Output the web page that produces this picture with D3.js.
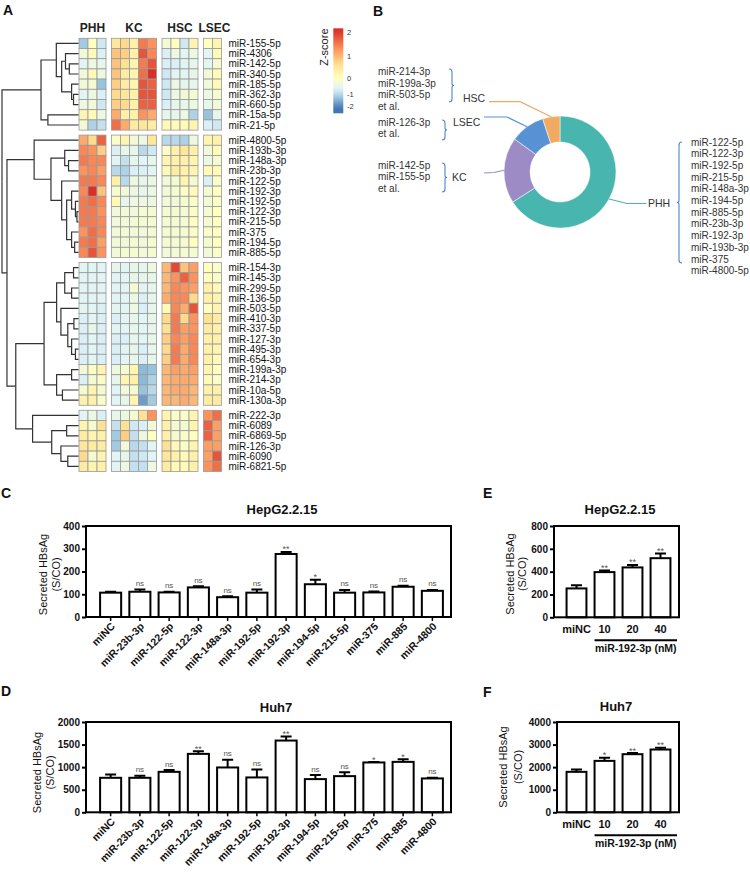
<!DOCTYPE html>
<html>
<head>
<meta charset="utf-8">
<script src="https://cdn.jsdelivr.net/npm/d3@7"></script>
<style>
  body { margin: 0; background: #fff; }
  svg { font-family: "Liberation Sans", Arial, sans-serif; }
</style>
</head>
<body>
<div id="fig"></div>
<script>
// ---------- panel A: heatmap data ----------
const cellTypes = ['PHH', 'KC', 'HSC', 'LSEC']
const replicates = [3, 5, 4, 2]

const rows1 = ['miR-155-5p', 'miR-4306', 'miR-142-5p', 'miR-340-5p', 'miR-185-5p', 'miR-362-3p', 'miR-660-5p', 'miR-15a-5p', 'miR-21-5p']
const z1 = [
    [-1.2, 0, -0.8, 0.5, 0.7, 0.3, 1.5, 1.3, -0.2, 0, -0.8, 0.2, 0, 0.2],
    [-0.3, 0.1, -0.7, 0.9, 0.8, 0.3, 1.8, 1.4, -0.7, -0.4, -0.6, -0.4, -0.6, 0.1],
    [-0.6, -0.4, -0.5, 0.9, 0.6, 0.2, 1.5, 1.8, -0.7, -0.7, -0.6, -0.5, -0.6, -0.2],
    [-0.3, 0.1, -0.4, 0.9, 0.4, 0.2, 1.6, 2.1, -0.8, -0.6, -0.6, -0.5, -0.3, 0.1],
    [-0.3, -0.2, -1.3, 0.8, 0.4, 0.2, 1.8, 1.7, -0.8, -0.4, -0.5, -0.5, -0.3, 0.1],
    [-0.6, -0.4, -0.7, 0.7, 0.5, 0.3, 1.8, 1.8, -0.8, -0.4, -0.3, -0.2, -0.4, -0.2],
    [-0.4, -0.3, -0.8, 0.8, 0.7, 0.3, 1.7, 1.7, -0.7, -0.5, -0.5, -0.4, -0.5, -0.3],
    [0.2, 0.1, -0.4, 1.1, 0.3, 0.3, 1.3, 1.1, -0.5, -0.5, -0.4, -1.1, -1.3, -0.5],
    [-0.3, -1.1, -0.9, 1.6, 1.1, 0.4, 0.5, 0.4, 0.1, 0.1, 0.1, 0.2, -0.7, -0.8]
]
const rows2 = ['miR-4800-5p', 'miR-193b-3p', 'miR-148a-3p', 'miR-23b-3p', 'miR-122-5p', 'miR-192-3p', 'miR-192-5p', 'miR-122-3p', 'miR-215-5p', 'miR-375', 'miR-194-5p', 'miR-885-5p']
const z2 = [
    [1.1, 0.7, 1.7, -0.1, 0.2, -0.3, -0.4, 0.5, -1.0, -1.0, -1.1, -0.4, 0.2, 0.3],
    [1.4, 1.3, 0.8, -0.7, -0.5, -0.5, -1.0, -0.8, -0.1, 0.3, 0.5, 0.3, -0.3, 0.1],
    [1.5, 1.4, 1.4, -0.6, -0.9, -0.5, -0.6, -0.5, 0.2, 0.3, 0.3, 0.2, -0.4, -0.2],
    [1.3, 1.4, 1.2, -1.0, -1.1, -0.7, -0.7, -0.6, 0.1, 0.4, 0.3, 0.2, 0.1, 0.1],
    [1.5, 1.5, 1.4, 0.3, -1.0, -0.4, -0.5, -0.4, -0.3, -0.2, 0.2, -0.2, -0.7, -0.1],
    [1.4, 2.2, 0.9, -0.2, -0.3, -0.4, -0.5, -0.4, -0.3, -0.2, -0.1, 0.1, -0.2, 0],
    [1.5, 1.6, 1.4, 0.1, -0.5, -0.4, -0.4, -0.4, -0.3, -0.3, -0.2, -0.1, -0.3, -0.1],
    [1.5, 1.5, 1.3, -0.3, -0.3, -0.3, -0.2, -0.2, -0.2, -0.2, -0.2, -0.1, -0.2, 0],
    [1.5, 1.5, 1.4, -0.3, -0.3, -0.2, -0.2, -0.2, -0.2, -0.2, -0.2, 0, -0.2, 0],
    [1.3, 1.6, 1.4, -0.3, -0.3, -0.3, -0.3, -0.2, -0.2, -0.2, -0.2, -0.1, -0.1, 0],
    [1.5, 1.6, 1.2, -0.3, -0.3, -0.2, -0.3, -0.2, -0.2, -0.2, -0.2, 0, -0.2, 0],
    [1.4, 1.8, 1.3, -0.3, -0.2, -0.2, -0.3, -0.2, -0.3, -0.2, -0.2, -0.2, -0.3, -0.1]
]
const rows3 = ['miR-154-3p', 'miR-145-3p', 'miR-299-5p', 'miR-136-5p', 'miR-503-5p', 'miR-410-3p', 'miR-337-5p', 'miR-127-3p', 'miR-495-3p', 'miR-654-3p', 'miR-199a-3p', 'miR-214-3p', 'miR-10a-5p', 'miR-130a-3p']
const z3 = [
    [-0.6, -0.6, -0.6, -0.5, -0.6, -0.5, -0.5, -0.4, 1.0, 1.9, 0.9, 1.2, 0, -0.1],
    [-0.6, -0.6, -0.6, -0.6, -0.6, -0.5, -0.5, -0.5, 1.0, 1.3, 1.7, 1.3, 0, -0.1],
    [-0.6, -0.6, -0.6, -0.6, -0.6, -0.2, -0.6, -0.5, 1.0, 1.4, 1.3, 1.2, 0.3, 0.1],
    [-0.6, -0.6, -0.6, -0.6, -0.6, -0.4, -0.7, -0.5, 1.1, 1.4, 1.4, 0.7, 0.3, 0.2],
    [-0.6, -0.6, -0.7, -0.6, -0.6, -0.4, -0.7, -0.5, 0.1, 1.4, 1.1, 1.8, 0, 0.2],
    [-0.7, -0.6, -0.7, -0.7, -0.6, -0.5, -0.6, -0.5, 0.7, 1.5, 0.7, 1.3, 0.6, 0.4],
    [-0.7, -0.5, -0.7, -0.6, -0.6, -0.5, -0.6, -0.5, 0.6, 1.5, 1.2, 1.3, 0.4, 0.3],
    [-0.7, -0.6, -0.7, -0.7, -0.7, -0.5, -0.6, -0.5, 0.8, 1.4, 1.2, 1.4, 0.3, 0.3],
    [-0.7, -0.6, -0.7, -0.7, -0.6, -0.5, -0.7, -0.5, 0.7, 1.5, 1.1, 1.4, 0.3, 0.2],
    [-0.7, -0.6, -0.7, -0.7, -0.6, -0.5, -0.7, -0.5, 0.8, 1.5, 1.1, 1.4, 0.3, 0.1],
    [-0.3, -0.1, 0.2, -0.4, -0.2, 0.2, -1.4, -1.3, 1.0, 1.2, 1.1, 1.2, 0.2, 0],
    [-0.7, -0.2, -0.1, -0.5, 0.2, 0.3, -1.4, -1.1, 1.0, 1.1, 1.1, 1.1, 0.1, -0.1],
    [-0.2, 0.2, -0.2, -0.6, -0.3, -0.2, -1.3, -1.0, 1.0, 1.1, 1.1, 1.0, 0.3, 0.3],
    [0.3, 0.3, -0.1, -0.6, -0.5, 0.2, -1.7, -1.2, 1.0, 1.0, 1.1, 1.0, 0.4, 0.4]
]
const rows4 = ['miR-222-3p', 'miR-6089', 'miR-6869-5p', 'miR-126-3p', 'miR-6090', 'miR-6821-5p']
const z4 = [
    [-0.6, -0.4, -0.7, -0.5, -0.4, -0.2, 0.6, 1.3, 0.2, -0.1, -0.1, 0.2, 1.3, 1.6],
    [0.2, -0.2, 0.6, -0.9, 0.6, -0.8, -0.7, -0.3, 0.3, -0.2, -0.2, 0.2, 1.7, 1.2],
    [0.4, 0.2, 0.3, -1.2, 0.8, -0.9, -0.4, 0, 0.3, -0.2, -0.1, 0, 1.7, 1.2],
    [0.5, 0.4, 0.4, -1.2, -0.3, -1.0, -0.9, -0.6, 0.6, 0.1, -0.1, 0.2, 1.2, 1.2],
    [0.7, -0.2, 0.2, -0.6, -0.5, -0.9, -0.8, -0.6, 0.5, 0.3, 0.1, 0.3, 1.2, 1.8],
    [0.4, 0.2, 0.3, -0.6, -0.4, -0.9, -0.9, -0.4, 0.4, 0.1, 0.1, 0.3, 1.3, 1.6]
]

// row dendrogram: [height, left, right], leaves are row names
const tree = [10,
    [4.9,
        [2.9, 'miR-155-5p',
            [2.2, [1.7, 'miR-4306', [1.2, 'miR-142-5p', 'miR-340-5p']],
                [0.9, 'miR-185-5p', [0.65, 'miR-362-3p', 'miR-660-5p']]]],
        [4.0, 'miR-15a-5p', 'miR-21-5p']],
    [9.35,
        [5.8, 'miR-4800-5p',
            [3.6, [1.8, 'miR-193b-3p', [1.3, 'miR-148a-3p', 'miR-23b-3p']],
                [2.2, 'miR-122-5p',
                    [1.55, [0.9, 'miR-192-3p', [0.4, 'miR-192-5p', [0.2, 'miR-122-3p', 'miR-215-5p']]],
                        [0.9, 'miR-375', [0.5, 'miR-194-5p', 'miR-885-5p']]]]]],
        [8.2,
            [4.5,
                [2.86, [1.8, [0.65, 'miR-154-3p', 'miR-145-3p'], [0.9, 'miR-299-5p', 'miR-136-5p']],
                    [2.3, 'miR-503-5p', [1.4, [0.6, 'miR-410-3p', 'miR-337-5p'], [0.9, 'miR-127-3p', [0.4, 'miR-495-3p', 'miR-654-3p']]]]],
                [2.86, [0.9, 'miR-199a-3p', 'miR-214-3p'], [2.1, 'miR-10a-5p', 'miR-130a-3p']]],
            [6.0, 'miR-222-3p',
                [3.5, [1.55, 'miR-6089', 'miR-6869-5p'], [2.3, 'miR-126-3p', [1.4, 'miR-6090', 'miR-6821-5p']]]]]]]

const legendTicks = [2, 1, 0, -1, -2]

// ---------- panel B: donut ----------
const pieLabels = ['PHH', 'KC', 'LSEC', 'HSC']
const pieValues = [66, 19, 10, 5]
const hscList = ['miR-214-3p', 'miR-199a-3p', 'miR-503-5p', 'et al.']
const lsecList = ['miR-126-3p', 'et al.']
const kcList = ['miR-142-5p', 'miR-155-5p', 'et al.']
const phhList = ['miR-122-5p', 'miR-122-3p', 'miR-192-5p', 'miR-215-5p', 'miR-148a-3p', 'miR-194-5p', 'miR-885-5p', 'miR-23b-3p', 'miR-192-3p', 'miR-193b-3p', 'miR-375', 'miR-4800-5p']

// ---------- panels C-F: bars ----------
const screenLabels = ['miNC', 'miR-23b-3p', 'miR-122-5p', 'miR-122-3p', 'miR-148a-3p', 'miR-192-5p', 'miR-192-3p', 'miR-194-5p', 'miR-215-5p', 'miR-375', 'miR-885', 'miR-4800']
const cMeans = [107, 111, 108, 130, 87, 107, 277, 144, 107, 108, 133, 115]
const cErrs = [4, 10, 3, 5, 4, 14, 9, 20, 12, 4, 4, 4]
const cSig = ['', 'ns', 'ns', 'ns', 'ns', 'ns', '**', '*', 'ns', 'ns', 'ns', 'ns']
const dMeans = [764, 764, 896, 1294, 993, 772, 1589, 735, 801, 1104, 1117, 750]
const dErrs = [75, 45, 40, 60, 170, 175, 90, 90, 85, 10, 60, 15]
const dSig = ['', 'ns', 'ns', '**', 'ns', 'ns', '**', 'ns', 'ns', '*', '*', 'ns']

const doseLabels = ['miNC', '10', '20', '40']
const eMeans = [253, 396, 437, 518]
const eErrs = [28, 14, 22, 40]
const eSig = ['', '**', '**', '**']
const fMeans = [1792, 2278, 2574, 2781]
const fErrs = [100, 140, 50, 80]
const fSig = ['', '*', '**', '**']

// ---------- styles ----------
const heatColors = ['#4575B4', '#91BFDB', '#E0F3F8', '#FFFFBF', '#FEE090', '#FC8D59', '#D73027']
const pieColors = { PHH: '#48b5ae', KC: '#9d8bc5', LSEC: '#5892d5', HSC: '#f0aa62' }
const braceColor = '#4f86c6'

const svg = d3.select('#fig').append('svg')
    .attr('width', 750)
    .attr('height', 872)

function letter(t, x, y) {
    svg.append('text').attr('x', x).attr('y', y).text(t)
        .attr('font-size', 14).attr('font-weight', 'bold').attr('fill', '#111')
}

// =============== A ===============
const heatRows = [rows1, rows2, rows3, rows4].flat()
const heatZ = [z1, z2, z3, z4].flat()
const rowCluster = [rows1, rows2, rows3, rows4].flatMap((r, k) => r.map(() => k))
const colGroup = replicates.flatMap((n, k) => d3.range(n).map(() => k))

const cellW = 9, cellH = 10.2, gapX = 5.5, gapY = 5
const colX = d3.scaleBand().domain(d3.range(colGroup.length)).range([79, 79 + colGroup.length * cellW])
const rowY = d3.scaleBand().domain(d3.range(heatRows.length)).range([38.3, 38.3 + heatRows.length * cellH])
const cx = j => colX(j) + colGroup[j] * gapX
const cy = i => rowY(i) + rowCluster[i] * gapY

const color = d3.scaleLinear()
    .domain([-2.1, -1.35, -0.65, 0, 0.65, 1.35, 2.1])
    .range(heatColors)
    .clamp(true)

const cells = []
heatZ.forEach((row, i) => row.forEach((v, j) => cells.push({ i, j, v })))

svg.append('g').selectAll('rect')
    .data(cells)
    .join('rect')
    .attr('x', d => cx(d.j))
    .attr('y', d => cy(d.i))
    .attr('width', cellW)
    .attr('height', cellH)
    .attr('fill', d => color(d.v))
    .attr('stroke', '#9a9a9a')
    .attr('stroke-width', 0.8)

const labelX = cx(colGroup.length - 1) + cellW + 7
svg.append('g').selectAll('text')
    .data(heatRows)
    .join('text')
    .attr('x', labelX)
    .attr('y', (d, i) => cy(i) + cellH / 2)
    .attr('dy', '0.35em')
    .attr('font-size', 10)
    .attr('fill', '#111')
    .text(d => d)

// column headers
const groupStart = replicates.map((n, k) => d3.sum(replicates.slice(0, k)))
svg.append('g').selectAll('text')
    .data(cellTypes)
    .join('text')
    .attr('x', (d, k) => cx(groupStart[k]) + replicates[k] * cellW / 2 + (d === 'LSEC' ? 2 : 0))
    .attr('y', 32)
    .attr('text-anchor', 'middle')
    .attr('font-size', 12)
    .attr('font-weight', 'bold')
    .attr('fill', '#222')
    .text(d => d)

// dendrogram
const root = d3.hierarchy(tree, d => Array.isArray(d) ? d.slice(1) : null)
const nodeH = n => Array.isArray(n.data) ? n.data[0] : 0
const hx = d3.scaleLinear().domain([0, 10]).range([78.5, 2])
root.eachAfter(n => {
    n.yy = n.children
        ? (n.children[0].yy + n.children[1].yy) / 2
        : cy(heatRows.indexOf(n.data)) + cellH / 2
})
svg.append('g').selectAll('path')
    .data(root.links())
    .join('path')
    .attr('d', l => `M${hx(nodeH(l.source))},${l.source.yy}V${l.target.yy}H${hx(nodeH(l.target))}`)
    .attr('fill', 'none')
    .attr('stroke', '#333')
    .attr('stroke-width', 1.2)

// colour key
const keyY = d3.scaleLinear().domain([-2, -1, 0, 1, 2]).range([106.7, 94.3, 78.3, 56, 32.7])
const keyTop = 28.3, keyBottom = 113.3
const grad = svg.append('defs').append('linearGradient')
    .attr('id', 'zgrad').attr('x1', 0).attr('y1', 0).attr('x2', 0).attr('y2', 1)
grad.selectAll('stop')
    .data(d3.range(0, 1.0001, 0.05))
    .join('stop')
    .attr('offset', t => t)
    .attr('stop-color', t => color(keyY.invert(keyTop + t * (keyBottom - keyTop))))
svg.append('rect')
    .attr('x', 333.3).attr('y', keyTop)
    .attr('width', 10).attr('height', keyBottom - keyTop)
    .attr('fill', 'url(#zgrad)')
svg.append('g').selectAll('text')
    .data(legendTicks)
    .join('text')
    .attr('x', 347)
    .attr('y', d => keyY(d))
    .attr('dy', '0.35em')
    .attr('font-size', 7.5)
    .attr('fill', '#333')
    .text(d => d)
svg.append('text')
    .attr('transform', 'translate(328,28.5) rotate(-90)')
    .attr('text-anchor', 'end')
    .attr('font-size', 11)
    .attr('fill', '#222')
    .text('Z-score')

letter('A', 3, 15)

// =============== B ===============
letter('B', 373, 16)
const pc = [560, 172]
const pieData = d3.pie().sort(null).value(d => d)(pieValues)
const arc = d3.arc().innerRadius(30).outerRadius(56)
const rim = d3.arc().innerRadius(56).outerRadius(56)
const pg = svg.append('g').attr('transform', `translate(${pc[0]},${pc[1]})`)
pg.selectAll('path')
    .data(pieData)
    .join('path')
    .attr('d', arc)
    .attr('fill', (d, i) => pieColors[pieLabels[i]])
    .attr('stroke', '#fff')
    .attr('stroke-width', 0.5)

// leader lines: elbow and end points per label
const leaderLayout = {
    PHH: { elbow: [627, 203.5], end: [646.5, 203.5], text: [648, 203] },
    KC: { elbow: [494, 172.5], end: [484, 173], text: [452, 177] },
    LSEC: { elbow: [507, 117], end: [484, 117], text: [453, 122] },
    HSC: { elbow: [520, 101.7], end: [489, 101.7], text: [463, 98] }
}
pieData.forEach((d, i) => {
    const name = pieLabels[i]
    const L = leaderLayout[name]
    const c = rim.centroid(d)
    const p0 = [pc[0] + c[0], pc[1] + c[1]]
    svg.append('path')
        .attr('d', d3.line()([p0, L.elbow, L.end]))
        .attr('fill', 'none')
        .attr('stroke', pieColors[name])
        .attr('stroke-width', 1.2)
    svg.append('text')
        .attr('x', L.text[0]).attr('y', L.text[1])
        .attr('dy', '0.35em')
        .attr('font-size', 10.5)
        .attr('fill', '#333')
        .text(name)
})

function list(items, x, y0, step) {
    svg.append('g').selectAll('text')
        .data(items)
        .join('text')
        .attr('x', x)
        .attr('y', (d, i) => y0 + i * step)
        .attr('font-size', 10)
        .attr('fill', '#333')
        .text(d => d)
}
list(hscList, 378, 75, 11.6)
list(lsecList, 378, 125.5, 11.6)
list(kcList, 378, 168.5, 11.6)
list(phhList, 691, 145.5, 11.7)

// braces; dir 1 = closing "}", -1 = opening "{"
function brace(x, y0, y1, dir) {
    const ym = (y0 + y1) / 2, w = 3 * dir
    const p = d3.path()
    p.moveTo(x - w, y0)
    p.quadraticCurveTo(x, y0, x, y0 + 3)
    p.lineTo(x, ym - 2)
    p.quadraticCurveTo(x, ym, x + 2 * dir, ym)
    p.quadraticCurveTo(x, ym, x, ym + 2)
    p.lineTo(x, y1 - 3)
    p.quadraticCurveTo(x, y1, x - w, y1)
    svg.append('path').attr('d', p.toString())
        .attr('fill', 'none').attr('stroke', braceColor).attr('stroke-width', 1.1)
}
brace(452, 69, 102, 1)
brace(445, 120, 140, 1)
brace(445, 163, 192, 1)
brace(679, 142, 263, -1)

// =============== C-F ===============
function barPanel(o) {
    const x = d3.scaleBand().domain(o.labels).range(o.band)
        .paddingInner(o.pad).paddingOuter(o.pad / 2)
    const y = d3.scaleLinear().domain([0, o.max]).range([o.bottom, o.top])
    const g = svg.append('g')
    const rows = o.labels.map((l, i) => ({ l, m: o.means[i], e: o.errs[i], s: o.sig[i] }))

    // error bars (upper only)
    g.selectAll('path.err')
        .data(rows)
        .join('path')
        .attr('d', d => {
            const c = x(d.l) + x.bandwidth() / 2
            return `M${c},${y(d.m)}V${y(d.m + d.e)}M${c - 5.5},${y(d.m + d.e)}H${c + 5.5}`
        })
        .attr('stroke', '#000').attr('stroke-width', 2).attr('fill', 'none')

    g.selectAll('rect.bar')
        .data(rows)
        .join('rect')
        .attr('x', d => x(d.l))
        .attr('width', x.bandwidth())
        .attr('y', d => y(d.m))
        .attr('height', d => o.bottom - y(d.m))
        .attr('fill', '#fff')
        .attr('stroke', '#000')
        .attr('stroke-width', 2)

    g.selectAll('text.sig')
        .data(rows.filter(d => d.s))
        .join('text')
        .attr('x', d => x(d.l) + x.bandwidth() / 2)
        .attr('y', d => y(d.m + d.e) + (d.s === 'ns' ? -3.5 : 0.5))
        .attr('text-anchor', 'middle')
        .attr('font-size', d => d.s === 'ns' ? 8 : 9)
        .attr('fill', '#555')
        .text(d => d.s)

    // y axis
    const ya = g.append('g')
        .attr('transform', `translate(${o.left},0)`)
        .call(d3.axisLeft(y).tickValues(o.ticks).tickFormat(d3.format('d'))
            .tickSize(4).tickSizeOuter(0).tickPadding(2))
    ya.select('.domain').remove()
    ya.selectAll('line').attr('stroke-width', 2)
    ya.selectAll('text').attr('font-size', 10).attr('font-weight', 'bold')
        .attr('font-family', '"Liberation Sans", Arial, sans-serif').attr('fill', '#111')

    // x axis
    const xa = g.append('g')
        .attr('transform', `translate(0,${o.bottom})`)
        .call(d3.axisBottom(x).tickSize(o.rotate ? 4 : 0).tickSizeOuter(0).tickPadding(0))
    xa.select('.domain').remove()
    xa.selectAll('line').attr('stroke-width', 1.5)
    const xt = xa.selectAll('text')
        .attr('font-family', '"Liberation Sans", Arial, sans-serif')
        .attr('font-weight', 'bold')
        .attr('fill', '#111')
    if (o.rotate) {
        xt.attr('x', 0).attr('y', 0).attr('dy', 0)
            .attr('transform', 'translate(5,10) rotate(-45)')
            .attr('text-anchor', 'end')
            .attr('font-size', 10.5)
    } else {
        xt.attr('y', 16).attr('dy', 0).attr('font-size', 11)
        const lx0 = x(o.labels[1])
        g.append('line')
            .attr('x1', lx0).attr('x2', o.right - 2)
            .attr('y1', o.bottom + 23).attr('y2', o.bottom + 23)
            .attr('stroke', '#000').attr('stroke-width', 2)
        g.append('text')
            .attr('x', (lx0 + o.right - 2) / 2)
            .attr('y', o.bottom + 35)
            .attr('text-anchor', 'middle')
            .attr('font-size', 10.5)
            .attr('font-weight', 'bold')
            .attr('fill', '#111')
            .text(o.group)
    }

    // frame
    g.append('rect')
        .attr('x', o.left).attr('y', o.top)
        .attr('width', o.right - o.left).attr('height', o.bottom - o.top)
        .attr('fill', 'none').attr('stroke', '#000').attr('stroke-width', 2)

    g.append('text')
        .attr('x', o.titleX).attr('y', o.titleY)
        .attr('text-anchor', 'middle')
        .attr('font-size', 13).attr('font-weight', 'bold').attr('fill', '#111')
        .text(o.title)

    const yc = o.yTitle[2]
    ;['Secreted HBsAg', '(S/CO)'].forEach((t, k) => {
        g.append('text')
            .attr('transform', `translate(${o.yTitle[k]},${yc}) rotate(-90)`)
            .attr('text-anchor', 'middle')
            .attr('dy', '0.35em')
            .attr('font-size', 11)
            .attr('fill', '#111')
            .text(t)
    })
}

barPanel({
    labels: screenLabels, means: cMeans, errs: cErrs, sig: cSig,
    left: 86, right: 451, top: 526, bottom: 617, band: [96, 447], pad: 0.28,
    max: 400, ticks: [0, 100, 200, 300, 400], rotate: true,
    title: 'HepG2.2.15', titleX: 282, titleY: 514, yTitle: [43, 56, 574.5]
})
barPanel({
    labels: screenLabels, means: dMeans, errs: dErrs, sig: dSig,
    left: 86, right: 451, top: 722, bottom: 812.3, band: [96, 447], pad: 0.28,
    max: 2000, ticks: [0, 500, 1000, 1500, 2000], rotate: true,
    title: 'Huh7', titleX: 276, titleY: 712, yTitle: [37, 50, 772.5]
})
barPanel({
    labels: doseLabels, means: eMeans, errs: eErrs, sig: eSig,
    left: 554, right: 679, top: 526, bottom: 617.3, band: [562.5, 674.5], pad: 0.29,
    max: 800, ticks: [0, 200, 400, 600, 800], rotate: false, group: 'miR-192-3p (nM)',
    title: 'HepG2.2.15', titleX: 620, titleY: 514, yTitle: [510, 522.5, 574]
})
barPanel({
    labels: doseLabels, means: fMeans, errs: fErrs, sig: fSig,
    left: 557, right: 679, top: 722, bottom: 812.3, band: [562.5, 674.5], pad: 0.29,
    max: 4000, ticks: [0, 1000, 2000, 3000, 4000], rotate: false, group: 'miR-192-3p (nM)',
    title: 'Huh7', titleX: 616, titleY: 711, yTitle: [503.5, 518, 767]
})

letter('C', 1, 498)
letter('D', 1, 696)
letter('E', 483, 498)
letter('F', 483, 697)
</script>
</body>
</html>
